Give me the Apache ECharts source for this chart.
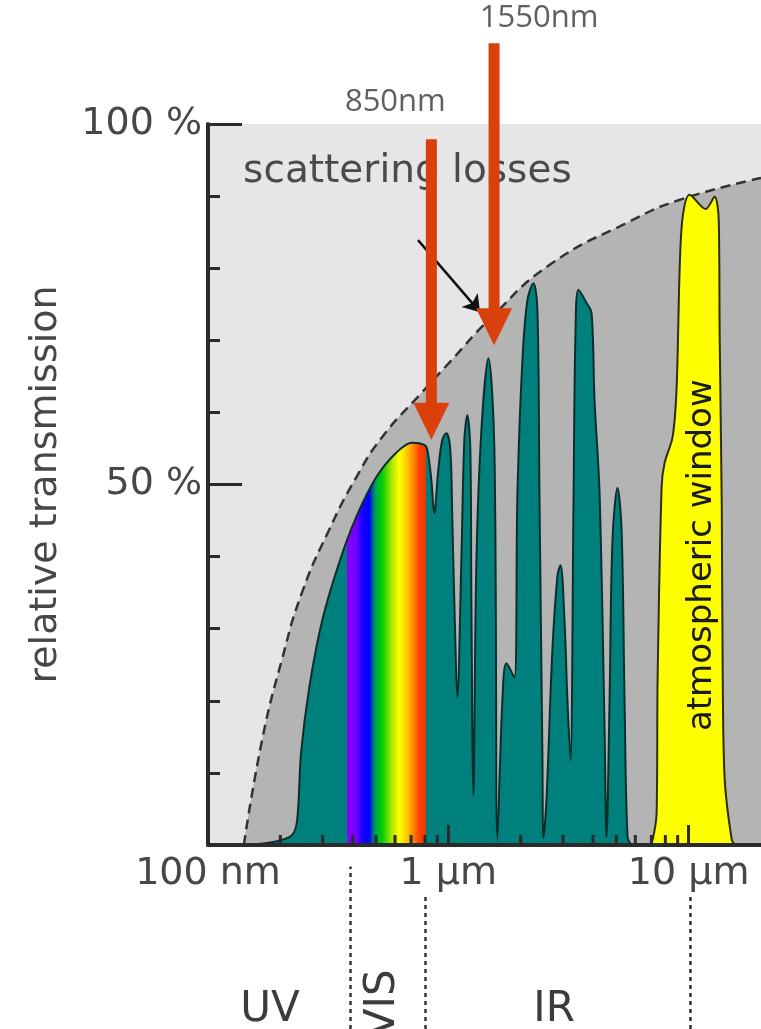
<!DOCTYPE html>
<html><head><meta charset="utf-8">
<script src="https://cdn.jsdelivr.net/npm/echarts/dist/echarts.min.js"></script>
<style>html,body{margin:0;padding:0;background:#fff;}#c{width:761px;height:1029px;}</style>
</head><body><div id="c"></div>
<script>
// ---------- data (wavelength in nm, transmission in %) ----------
const scatteringLimit = [[141,0],[168,14.6],[203,25.7],[246,35.0],[319,43.7],[414,51.0],[531,56.6],[763,62.5],[1016,67.0],[1492,73.0],[2650,80.5],[5700,86.5],[9210,89.5],[20000,92.5]];
const transmission = [[143,0],[192,0.5],[224,1.4],[235,3.5],[244,12.8],[264,21.9],[299,31.2],[351,39.1],[414,45.5],[501,51.0],[607,54.4],[708,55.8],[794,55.5],[818,54.8],[850,50.6],[874,46.0],[908,52.0],[944,56.2],[981,57.1],[1019,54.8],[1039,45.1],[1069,28.4],[1090,20.5],[1133,39.5],[1166,56.2],[1200,59.6],[1235,54.8],[1247,34.0],[1271,6.9],[1309,39.5],[1373,57.6],[1468,67.5],[1555,54.8],[1600,0.7],[1679,20.1],[1745,25.2],[1884,23.2],[1939,48.8],[2034,67.3],[2134,75.6],[2260,77.9],[2348,74.2],[2394,48.8],[2464,11.8],[2488,1.0],[2560,6.2],[2710,27.0],[2846,37.4],[2929,38.8],[3043,31.2],[3130,20.1],[3223,11.8],[3319,47.9],[3383,71.4],[3482,77.0],[3758,75.2],[3943,73.8],[4058,61.7],[4258,48.8],[4467,16.4],[4553,1.1],[4687,20.1],[4820,42.3],[5058,49.5],[5260,43.7],[5410,20.1],[5570,1.1],[5790,0]];
const atmosphericWindow = [[6880,0],[7079,0.7],[7356,4.4],[7427,22.9],[7718,49.7],[7943,53.0],[8576,56.6],[8913,63.5],[9173,79.8],[9441,87.1],[10090,90.2],[11770,88.2],[12830,89.9],[13340,86.7],[13460,70.5],[13730,47.4],[13860,22.9],[14130,9.0],[15110,0.7],[15550,0]];
const minorTicksNm = [200,300,400,500,600,700,800,900,2000,3000,4000,5000,6000,7000,8000,9000];
const visibleBand = [379, 809];
const spectrum = [[379,'#8a00ff'],[417,'#7000ff'],[433,'#2200ff'],[468,'#0000ff'],[496,'#00a050'],[531,'#00d000'],[580,'#a8e600'],[626,'#ffff00'],[667,'#ffd000'],[720,'#ff8000'],[758,'#ff4000'],[809,'#e33a00']];
const arrowNm = [850, 1550];
const arrowTop = [97.9, 111.2];
const arrowTip = [56.2, 69.3];
const arrowLabels = ['850nm', '1550nm'];
const scatterArrow = [[748, 83.9], [1355, 73.9]];
const notes = [{text:'scattering losses', nm:140, pct:93.3}];
const windowNote = {text:'atmospheric window', nm:11430, pct:40.2};
const bandNames = ['UV', 'VIS', 'IR'];
const bandNm = [181, 535, 2754];
const bandLevel = [0.11, 0.15, 0.11];
const dividerNm = [390, 800, 10200];
const dividerTop = [0.95, 0.78, 0.78];

// ---------- styles ----------
const TEAL = '#00807c', RED = '#d9400b', TXT = '#474747', FONT = 'DejaVu Sans';

function spectrumGradient(d) {
  const lo = Math.log10(d[0][0]), hi = Math.log10(d[d.length-1][0]);
  const off = nm => (Math.log10(nm) - lo) / (hi - lo);
  const stops = [{offset:0, color:TEAL}, {offset:off(visibleBand[0]) - 1e-4, color:TEAL}];
  spectrum.forEach(([nm, c]) => stops.push({offset:off(nm), color:c}));
  stops.push({offset:off(visibleBand[1]) + 1e-4, color:TEAL}, {offset:1, color:TEAL});
  return new echarts.graphic.LinearGradient(0, 0, 1, 0, stops);
}

const chart = echarts.init(document.getElementById('c'), null, {renderer:'canvas'});
const labelOffsets = [[-36,-37],[45,-25]];

chart.setOption({
  animation:false,
  backgroundColor:'#fff',
  grid:[
    {left:208, right:0, top:124, bottom:184, show:true, backgroundColor:'#e6e6e6', borderWidth:0},
    {left:208, right:0, top:858, bottom:0, show:false}
  ],
  xAxis:[
    {type:'log', gridIndex:0, min:100, max:20000, logBase:10, z:10,
     axisLine:{show:true, onZero:false, lineStyle:{color:'#2b2b2b', width:4}},
     axisTick:{show:true, inside:true, length:20, lineStyle:{color:'#2b2b2b', width:3}},
     splitLine:{show:false}, minorTick:{show:false},
     axisLabel:{show:true, margin:10, fontSize:38, color:TXT, fontFamily:FONT, showMaxLabel:false,
       formatter:v => v >= 1000 ? Math.round(v/1000) + ' µm' : Math.round(v) + ' nm'}},
    {type:'log', gridIndex:1, min:100, max:20000, show:false}
  ],
  yAxis:[
    {type:'value', gridIndex:0, min:0, max:100, interval:50, z:10,
     name:'relative transmission', nameLocation:'middle', nameGap:143, nameRotate:90,
     nameTextStyle:{fontSize:38, color:TXT, fontFamily:FONT},
     axisLine:{show:true, lineStyle:{color:'#2b2b2b', width:4}},
     axisTick:{show:true, inside:true, length:34, lineStyle:{color:'#2b2b2b', width:3}},
     minorTick:{show:true, splitNumber:5, length:12, lineStyle:{color:'#2b2b2b', width:3}},
     splitLine:{show:false},
     axisLabel:{margin:6, fontSize:38, color:TXT, fontFamily:FONT, formatter:v => v === 0 ? '' : v + ' %'}},
    {type:'value', gridIndex:1, min:0, max:1, show:false}
  ],
  series:[
    {type:'line', name:'scattering', xAxisIndex:0, yAxisIndex:0, z:1, smooth:0.5, symbol:'none',
     data:scatteringLimit,
     lineStyle:{color:'#333', width:2.5, type:[10,6]},
     areaStyle:{color:'#b4b4b4', opacity:1},
     markLine:{silent:true, symbol:['none','arrow'], symbolSize:16, animation:false,
       lineStyle:{color:'#111', width:2.5, type:'solid'}, label:{show:false},
       data:[[{coord:scatterArrow[0]}, {coord:scatterArrow[1]}]]}},
    {type:'line', name:'transmission', xAxisIndex:0, yAxisIndex:0, z:2, smooth:0.35, symbol:'none',
     data:transmission,
     lineStyle:{color:'#0b2e2c', width:2},
     areaStyle:{color:spectrumGradient(transmission), opacity:1}},
    {type:'line', name:'window', xAxisIndex:0, yAxisIndex:0, z:2, smooth:0.3, symbol:'none',
     data:atmosphericWindow,
     lineStyle:{color:'#2e2e00', width:2},
     areaStyle:{color:'#ffff00', opacity:1}},
    {type:'scatter', name:'ticks', xAxisIndex:0, yAxisIndex:0, z:11, symbol:'rect',
     symbolSize:[3,10], symbolOffset:[0,-5], itemStyle:{color:'#2b2b2b', opacity:1},
     data:minorTicksNm.map(v => [v, 0]), silent:true},
    {type:'scatter', name:'notes', xAxisIndex:0, yAxisIndex:0, z:12, symbolSize:0, silent:true,
     itemStyle:{opacity:1},
     data:[
       {value:[notes[0].nm, notes[0].pct], name:notes[0].text,
        label:{position:'right', distance:0, fontSize:39, color:'#4a4a4a'}},
       {value:[windowNote.nm, windowNote.pct], name:windowNote.text,
        label:{position:'inside', rotate:90, fontSize:34, color:'#1a1a1a'}}
     ],
     label:{show:true, formatter:'{b}', fontFamily:FONT}},
    {type:'custom', name:'arrows', coordinateSystem:'cartesian2d', xAxisIndex:0, yAxisIndex:0, z:14, clip:false, silent:true,
     data:arrowNm.map((w,i) => [w, arrowTop[i], arrowTip[i]]),
     renderItem(params, api) {
       const top = api.coord([api.value(0), api.value(1)]);
       const tip = api.coord([api.value(0), api.value(2)]);
       const hw = 18, hh = 37, sw = 11;
       const off = labelOffsets[params.dataIndex];
       return {type:'group', children:[
         {type:'rect', shape:{x:top[0]-sw/2, y:top[1], width:sw, height:tip[1]-hh-top[1]+1}, style:{fill:RED}},
         {type:'polygon', shape:{points:[[tip[0]-hw, tip[1]-hh],[tip[0]+hw, tip[1]-hh],[tip[0], tip[1]]]}, style:{fill:RED}},
         {type:'text', x:top[0]+off[0], y:top[1]+off[1],
          style:{text:arrowLabels[params.dataIndex], fill:'#606060', fontSize:31, fontFamily:'Open Sans', align:'center', verticalAlign:'middle'}}
       ]};
     }},
    {type:'scatter', name:'bands', xAxisIndex:1, yAxisIndex:1, symbolSize:0, silent:true,
     itemStyle:{opacity:1},
     data:bandNames.map((n,i) => ({value:[bandNm[i], bandLevel[i]], name:n, label:{rotate: n === 'VIS' ? 90 : 0}})),
     label:{show:true, formatter:'{b}', position:'inside', fontSize:42, color:'#3c3c3c', fontFamily:FONT},
     markLine:{silent:true, symbol:'none', animation:false, label:{show:false},
       lineStyle:{type:[4,4], width:2.5, color:'#333'},
       data:dividerNm.map((w,i) => [{coord:[w,0]}, {coord:[w,dividerTop[i]]}])}}
  ]
});
</script></body></html>
